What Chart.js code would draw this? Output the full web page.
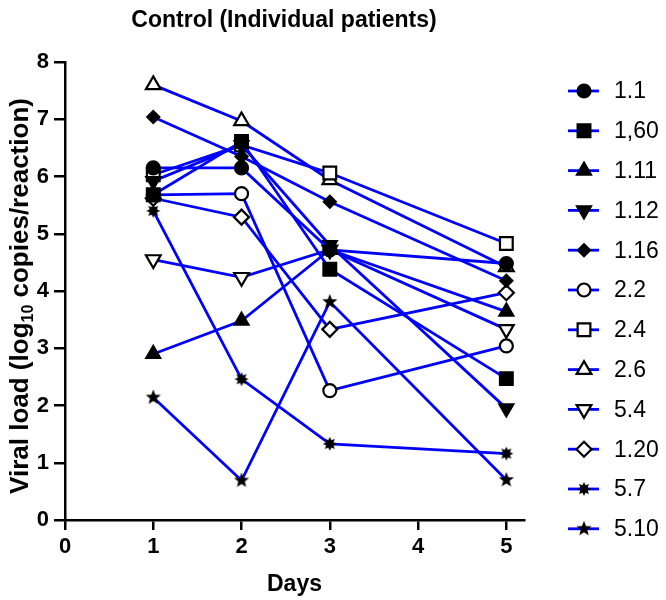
<!DOCTYPE html>
<html>
<head>
<meta charset="utf-8">
<script src="https://cdn.jsdelivr.net/npm/chart.js@4.4.0/dist/chart.umd.min.js"></script>
<style>
  body { margin: 0; background: #fff; }
  canvas { display: block; }
</style>
</head>
<body>
<canvas id="viralChart" width="666" height="600"></canvas>
<script>
// Data (log10 copies/reaction), days 1, 2, 3 and 5
const days = [1, 2, 3, 5];
const patients = ["1.1", "1,60", "1.11", "1.12", "1.16", "2.2", "2.4", "2.6", "5.4", "1.20", "5.7", "5.10"];
const load_1_1  = [6.15, 6.15, 4.72, 4.48];
const load_1_60 = [5.68, 6.61, 4.38, 2.47];
const load_1_11 = [2.90, 3.48, 4.72, 3.64];
const load_1_12 = [5.92, 6.55, 4.80, 1.95];
const load_1_16 = [7.04, 6.35, 5.56, 4.18];
const load_2_2  = [5.68, 5.70, 2.26, 3.04];
const load_2_4  = [6.03, 6.55, 6.06, 4.83];
const load_2_6  = [7.60, 6.97, 5.94, 4.42];
const load_5_4  = [4.55, 4.24, 4.72, 3.33];
const load_1_20 = [5.62, 5.29, 3.33, 3.97];
const load_5_7  = [5.40, 2.46, 1.33, 1.16];
const load_5_10 = [2.14, 0.69, 3.81, 0.70];
const allLoads = [load_1_1, load_1_60, load_1_11, load_1_12, load_1_16, load_2_2,
                  load_2_4, load_2_6, load_5_4, load_1_20, load_5_7, load_5_10];

const yTicks = [0, 1, 2, 3, 4, 5, 6, 7, 8];
const xTicks = [0, 1, 2, 3, 4, 5];

// small canvases for the two star-like markers
function makeStar(points, outer, inner) {
    const size = Math.ceil(outer * 2 + 2);
    const c = document.createElement("canvas");
    c.width = size; c.height = size;
    const g = c.getContext("2d");
    g.fillStyle = "#000";
    g.beginPath();
    for (let i = 0; i < points * 2; i++) {
        const r = i % 2 === 0 ? outer : inner;
        const a = -Math.PI / 2 + i * Math.PI / points;
        const px = size / 2 + r * Math.cos(a), py = size / 2 + r * Math.sin(a);
        i === 0 ? g.moveTo(px, py) : g.lineTo(px, py);
    }
    g.closePath();
    g.fill();
    return c;
}
const burst = makeStar(8, 7, 4);
const star5 = makeStar(5, 8, 3.4);

// marker style per patient (filled = black fill, open = white fill)
const markers = [
    { style: "circle",   r: 6.5, rot: 0,   fill: "#000" },
    { style: "rect",     r: 9,   rot: 0,   fill: "#000" },
    { style: "triangle", r: 8,   rot: 0,   fill: "#000" },
    { style: "triangle", r: 8,   rot: 180, fill: "#000" },
    { style: "rectRot",  r: 6,   rot: 0,   fill: "#000" },
    { style: "circle",   r: 6.5, rot: 0,   fill: "#fff" },
    { style: "rect",     r: 9,   rot: 0,   fill: "#fff" },
    { style: "triangle", r: 8.5, rot: 0,   fill: "#fff" },
    { style: "triangle", r: 8.5, rot: 180, fill: "#fff" },
    { style: "rectRot",  r: 7.5, rot: 0,   fill: "#fff" },
    { style: burst,      r: 6,   rot: 0,   fill: "#000" },
    { style: star5,      r: 6,   rot: 0,   fill: "#000" }
];

const datasets = patients.map((name, i) => ({
    label: name,
    data: days.map((d, j) => ({ x: d, y: allLoads[i][j] })),
    borderColor: "#0000ff",
    borderWidth: 2.8,
    tension: 0,
    pointStyle: markers[i].style,
    pointRadius: markers[i].r,
    pointRotation: markers[i].rot,
    pointBackgroundColor: markers[i].fill,
    pointBorderColor: "#000",
    pointBorderWidth: 2.2
}));

// chart title + y-axis title with subscript, and the line+marker legend
const extraText = {
    id: "extraText",
    afterDraw(chart) {
        const ctx = chart.ctx;
        ctx.save();
        ctx.fillStyle = "#000";
        ctx.font = "bold 23px 'Liberation Sans', Arial, sans-serif";
        ctx.textAlign = "center";
        ctx.textBaseline = "middle";
        ctx.fillText("Control (Individual patients)", 284, 21);

        // y title
        ctx.translate(20, 296);
        ctx.rotate(-Math.PI / 2);
        const big = "bold 26px 'Liberation Sans', Arial, sans-serif";
        const small = "bold 16px 'Liberation Sans', Arial, sans-serif";
        const parts = [["Viral load (log", big, 0], ["10", small, 5], [" copies/reaction)", big, 0]];
        let total = 0;
        parts.forEach(p => { ctx.font = p[1]; total += ctx.measureText(p[0]).width; });
        let x = -total / 2;
        ctx.textAlign = "left";
        ctx.textBaseline = "alphabetic";
        parts.forEach(p => {
            ctx.font = p[1];
            ctx.fillText(p[0], x, 8 + p[2]);
            x += ctx.measureText(p[0]).width;
        });
        ctx.restore();

        // legend
        ctx.save();
        chart.data.datasets.forEach((ds, i) => {
            const y = 91 + i * 39.8;
            ctx.strokeStyle = "#0000ff";
            ctx.lineWidth = 2.8;
            ctx.beginPath();
            ctx.moveTo(568, y);
            ctx.lineTo(599, y);
            ctx.stroke();
            ctx.fillStyle = ds.pointBackgroundColor;
            ctx.strokeStyle = "#000";
            ctx.lineWidth = 2.2;
            Chart.helpers.drawPoint(ctx, {
                pointStyle: ds.pointStyle, radius: ds.pointRadius,
                rotation: ds.pointRotation, borderWidth: 2.2
            }, 584, y);
            ctx.fillStyle = "#000";
            ctx.font = "23px 'Liberation Sans', Arial, sans-serif";
            ctx.textAlign = "left";
            ctx.textBaseline = "middle";
            ctx.fillText(ds.label, 614, y + 1);
        });
        ctx.restore();
    }
};

const axisFont = { family: "'Liberation Sans', Arial, sans-serif", size: 22, weight: "bold" };

new Chart(document.getElementById("viralChart"), {
    type: "line",
    data: { datasets: datasets },
    options: {
        responsive: false,
        animation: false,
        layout: { padding: { top: 62, right: 142, left: 0, bottom: 0 } },
        plugins: {
            legend: { display: false },
            title: { display: false },
            tooltip: { enabled: false }
        },
        scales: {
            x: {
                type: "linear",
                min: 0,
                max: 5.2,
                afterFit(scale) { scale.height = 80; },
                afterBuildTicks(scale) { scale.ticks = xTicks.map(v => ({ value: v })); },
                ticks: { color: "#000", font: axisFont, padding: 4, includeBounds: false },
                grid: { drawOnChartArea: false, drawTicks: true, tickLength: 10, color: "#000", lineWidth: 2.5 },
                border: { display: true, color: "#000", width: 2.5 },
                title: { display: true, text: "Days", color: "#000", font: { family: axisFont.family, size: 23, weight: "bold" }, padding: { top: 0, bottom: 2 } }
            },
            y: {
                min: 0,
                max: 8,
                afterFit(scale) { scale.width = 65; },
                afterBuildTicks(scale) { scale.ticks = yTicks.map(v => ({ value: v })); },
                ticks: { color: "#000", font: axisFont, padding: 5 },
                grid: { drawOnChartArea: false, drawTicks: true, tickLength: 11, color: "#000", lineWidth: 2.5 },
                border: { display: true, color: "#000", width: 2.5 }
            }
        }
    },
    plugins: [extraText]
});
</script>
</body>
</html>
